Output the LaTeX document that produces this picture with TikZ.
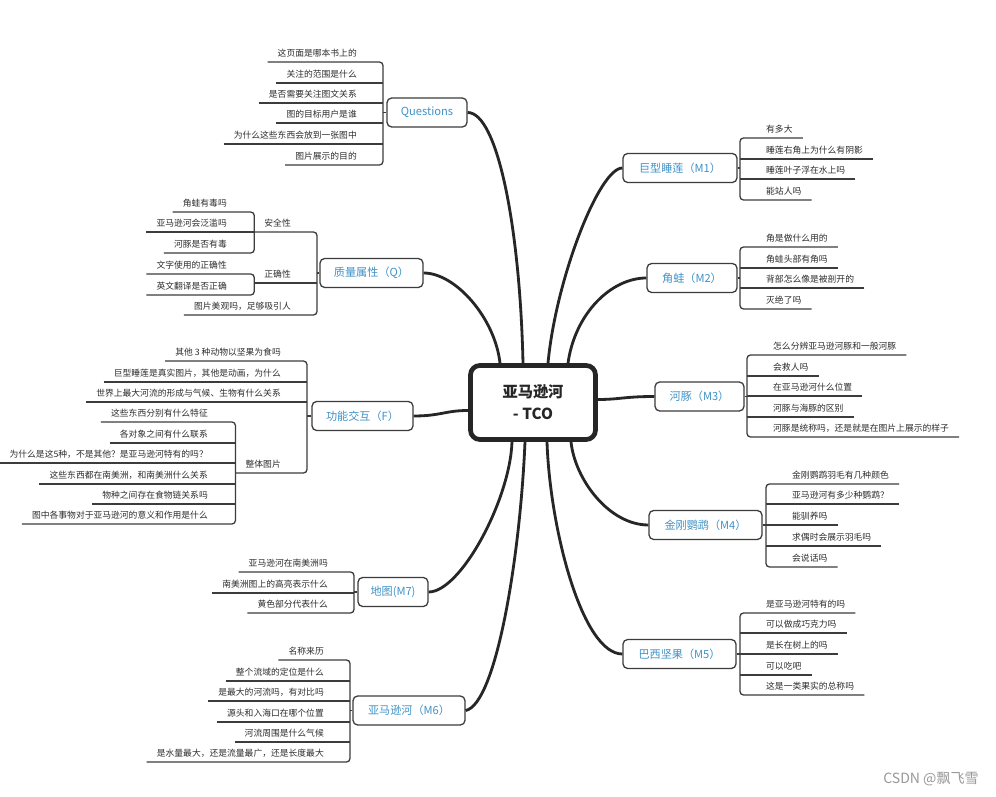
\documentclass[tikz,border=0pt]{standalone}
\usepackage{fontspec}
\setmainfont{Noto Sans CJK SC}
\usetikzlibrary{calc}
\definecolor{inkgray}{RGB}{60,60,60}
\definecolor{textgray}{RGB}{45,45,45}
\definecolor{topicblue}{RGB}{64,146,200}
\newcommand{\leaffont}{\fontsize{7.5}{9}\selectfont}
\newcommand{\topicfont}{\fontsize{9.5}{11}\selectfont}
\newcommand{\rootfont}{\fontsize{13}{18.7}\selectfont\bfseries}
\tikzset{
  leafr/.style={anchor=south west, inner xsep=8.5pt, inner ysep=3.3pt,
    text height=6.6pt, text depth=0.9pt, text=textgray, font=\leaffont},
  leafl/.style={leafr, anchor=south east},
  twig/.style={draw=inkgray, line width=1.1pt, rounded corners=3pt},
  limb/.style={draw=black!85, line width=2.4pt},
  topic/.style={draw=inkgray, line width=1.1pt, rounded corners=4pt, text=topicblue,
    font=\topicfont, inner sep=0pt, minimum height=0.87cm},
  root/.style={draw=black!85, line width=4pt, rounded corners=8pt, align=center,
    font=\rootfont, minimum width=3.75cm, minimum height=2.22cm, text=black!85}
}

\begin{document}
\begin{tikzpicture}[x=0.03cm, y=-0.03cm]
   \useasboundingbox[fill=white] (0,0) rectangle (996,797);
   % root and topics
   \node[root] (cen) at (533,402.5) {亚马逊河\\- TCO};
   \node[topic, minimum width=2.4cm]  (qs) at (427,112.5) {Questions};
   \node[topic, minimum width=3.09cm] (ql) at (371.5,273) {质量属性（Q）};
   \node[topic, minimum width=3.03cm] (fi) at (362.5,416) {功能交互（F）};
   \node[topic, minimum width=2.1cm]  (m7) at (393,592) {地图(M7)};
   \node[topic, minimum width=3.36cm] (m6) at (409,710.5) {亚马逊河（M6）};
   \node[topic, minimum width=3.42cm] (m1) at (680,168) {巨型睡莲（M1）};
   \node[topic, minimum width=2.7cm]  (m2) at (692,278) {角蛙（M2）};
   \node[topic, minimum width=2.67cm] (m3) at (699.5,396.5) {河豚（M3）};
   \node[topic, minimum width=3.39cm] (m4) at (705.5,525) {金刚鹦鹉（M4）};
   \node[topic, minimum width=3.39cm] (m5) at (679.5,654) {巴西坚果（M5）};

   % limbs from the root
   \draw[limb] (qs.east) .. controls +(30,0) and +(-3,-135) .. ($(cen.north)+(-10,0)$);
   \draw[limb] (ql.east) .. controls +(32,0) and +(-5,-45) .. ($(cen.north)+(-33,0)$);
   \draw[limb] (m1.west) .. controls +(-23,0) and +(8,-85) .. ($(cen.north)+(15,0)$);
   \draw[limb] (m2.west) .. controls +(-35,0) and +(7,-50) .. ($(cen.north)+(35,0)$);
   \draw[limb] (m3.west) .. controls +(-30,0) and +(22,0) .. ($(cen.east)+(0,-3)$);
   \draw[limb] (m4.west) .. controls +(-39,0) and +(4,38) .. ($(cen.south)+(38,0)$);
   \draw[limb] (m5.west) .. controls +(-40,0) and +(3,88) .. ($(cen.south)+(14,0)$);
   \draw[limb] (m6.east) .. controls +(30,-6) and +(-5,118) .. ($(cen.south)+(-8,0)$);
   \draw[limb] (m7.east) .. controls +(32,0) and +(-2,58) .. ($(cen.south)+(-21,0)$);
   \draw[limb] (fi.east) .. controls +(27,0) and +(-23,0) .. ($(cen.west)+(0,8)$);

   % Questions
   \coordinate (qsbr) at (383,112.5);
   \node[leafl] (qsa) at (367,62)  {这页面是哪本书上的};
   \node[leafl] (qsb) at (367,83)  {关注的范围是什么};
   \node[leafl] (qsc) at (367,103) {是否需要关注图文关系};
   \node[leafl] (qsd) at (367,123) {图的目标用户是谁};
   \node[leafl] (qse) at (367,144) {为什么这些东西会放到一张图中};
   \node[leafl] (qsf) at (367,165) {图片展示的目的};
   \draw[twig] (qs.west) -- (qsbr);
   \draw[twig] (qsa.south west) -- (qsa.south east -| qsbr) -- (qsf.south east -| qsbr) -- (qsf.south west);
   \draw[twig] (qsb.south west) -- (qsb.south east -| qsbr) (qsc.south west) -- (qsc.south east -| qsbr)
      (qsd.south west) -- (qsd.south east -| qsbr) (qse.south west) -- (qse.south east -| qsbr);

   % quality
   \coordinate (qlbr) at (317,273);
   \node[leafl] (saf) at (301,232) {安全性};
   \node[leafl] (cor) at (301,283) {正确性};
   \node[leafl] (qlc) at (301,315) {图片美观吗，足够吸引人};
   \node[leafl] (saf1) at (237,212) {角蛙有毒吗};
   \node[leafl] (saf2) at (237,232) {亚马逊河会泛滥吗};
   \node[leafl] (saf3) at (237,253) {河豚是否有毒};
   \node[leafl] (cor1) at (237,274) {文字使用的正确性};
   \node[leafl] (cor2) at (237,295) {英文翻译是否正确};
   \draw[twig] (ql.west) -- (qlbr);
   \draw[twig] (saf.south west) -- (saf.south east -| qlbr) -- (qlc.south east -| qlbr) -- (qlc.south west);
   \draw[twig] (cor.south west) -- (cor.south east -| qlbr);
   \draw[twig] (saf1.south west) -- (saf1.south east -| saf.south west) -- (saf3.south east -| saf.south west) -- (saf3.south west);
   \draw[twig] (saf2.south west) -- (saf2.south east -| saf.south west);
   \draw[twig] (cor1.south west) -- (cor1.south east -| cor.south west) -- (cor2.south east -| cor.south west) -- (cor2.south west);

   % function
   \coordinate (fibr) at (307,416);
   \node[leafl] (fia) at (291,361) {其他 3 种动物以坚果为食吗};
   \node[leafl] (fib) at (291,382) {巨型睡莲是真实图片，其他是动画，为什么};
   \node[leafl] (fic) at (291,402) {世界上最大河流的形成与气候、生物有什么关系};
   \node[leafl] (whole) at (291,473) {整体图片};
   \node[leafl] (wh1) at (218,422) {这些东西分别有什么特征};
   \node[leafl] (wh2) at (218,443) {各对象之间有什么联系};
   \node[leafl] (wh3) at (218,463) {为什么是这5种，不是其他？是亚马逊河特有的吗？};
   \node[leafl] (wh4) at (218,484) {这些东西都在南美洲，和南美洲什么关系};
   \node[leafl] (wh5) at (218,504) {物种之间存在食物链关系吗};
   \node[leafl] (wh6) at (218,524) {图中各事物对于亚马逊河的意义和作用是什么};
   \draw[twig] (fi.west) -- (fibr);
   \draw[twig] (fia.south west) -- (fia.south east -| fibr) -- (whole.south east -| fibr) -- (whole.south west);
   \draw[twig] (fib.south west) -- (fib.south east -| fibr) (fic.south west) -- (fic.south east -| fibr);
   \draw[twig] (wh1.south west) -- (wh1.south east -| whole.south west) -- (wh6.south east -| whole.south west) -- (wh6.south west);
   \draw[twig] (wh2.south west) -- (wh2.south east -| whole.south west) (wh3.south west) -- (wh3.south east -| whole.south west)
      (wh4.south west) -- (wh4.south east -| whole.south west) (wh5.south west) -- (wh5.south east -| whole.south west);

   % M7
   \coordinate (m7br) at (354,592);
   \node[leafl] (m7a) at (338,572) {亚马逊河在南美洲吗};
   \node[leafl] (m7b) at (338,593) {南美洲图上的高亮表示什么};
   \node[leafl] (m7c) at (338,613) {黄色部分代表什么};
   \draw[twig] (m7.west) -- (m7br);
   \draw[twig] (m7a.south west) -- (m7a.south east -| m7br) -- (m7c.south east -| m7br) -- (m7c.south west);
   \draw[twig] (m7b.south west) -- (m7b.south east -| m7br);

   % M6
   \coordinate (m6br) at (350,710.5);
   \node[leafl] (m6a) at (334,660) {名称来历};
   \node[leafl] (m6b) at (334,681) {整个流域的定位是什么};
   \node[leafl] (m6c) at (334,701) {是最大的河流吗，有对比吗};
   \node[leafl] (m6d) at (334,722) {源头和入海口在哪个位置};
   \node[leafl] (m6e) at (334,742) {河流周围是什么气候};
   \node[leafl] (m6f) at (334,762) {是水量最大，还是流量最广，还是长度最大};
   \draw[twig] (m6.west) -- (m6br);
   \draw[twig] (m6a.south west) -- (m6a.south east -| m6br) -- (m6f.south east -| m6br) -- (m6f.south west);
   \draw[twig] (m6b.south west) -- (m6b.south east -| m6br) (m6c.south west) -- (m6c.south east -| m6br)
      (m6d.south west) -- (m6d.south east -| m6br) (m6e.south west) -- (m6e.south east -| m6br);

   % M1
   \coordinate (m1br) at (740,168);
   \node[leafr] (m1a) at (756,138) {有多大};
   \node[leafr] (m1b) at (756,159) {睡莲右角上为什么有阴影};
   \node[leafr] (m1c) at (756,179) {睡莲叶子浮在水上吗};
   \node[leafr] (m1d) at (756,200) {能站人吗};
   \draw[twig] (m1.east) -- (m1br);
   \draw[twig] (m1a.south east) -- (m1a.south west -| m1br) -- (m1d.south west -| m1br) -- (m1d.south east);
   \draw[twig] (m1b.south east) -- (m1b.south west -| m1br) (m1c.south east) -- (m1c.south west -| m1br);

   % M2
   \coordinate (m2br) at (740,278);
   \node[leafr] (m2a) at (756,247) {角是做什么用的};
   \node[leafr] (m2b) at (756,268) {角蛙头部有角吗};
   \node[leafr] (m2c) at (756,288) {背部怎么像是被剖开的};
   \node[leafr] (m2d) at (756,309) {灭绝了吗};
   \draw[twig] (m2.east) -- (m2br);
   \draw[twig] (m2a.south east) -- (m2a.south west -| m2br) -- (m2d.south west -| m2br) -- (m2d.south east);
   \draw[twig] (m2b.south east) -- (m2b.south west -| m2br) (m2c.south east) -- (m2c.south west -| m2br);

   % M3
   \coordinate (m3br) at (747,396.5);
   \node[leafr] (m3a) at (763,355) {怎么分辨亚马逊河豚和一般河豚};
   \node[leafr] (m3b) at (763,376) {会救人吗};
   \node[leafr] (m3c) at (763,396) {在亚马逊河什么位置};
   \node[leafr] (m3d) at (763,417) {河豚与海豚的区别};
   \node[leafr] (m3e) at (763,437) {河豚是统称吗，还是就是在图片上展示的样子};
   \draw[twig] (m3.east) -- (m3br);
   \draw[twig] (m3a.south east) -- (m3a.south west -| m3br) -- (m3e.south west -| m3br) -- (m3e.south east);
   \draw[twig] (m3b.south east) -- (m3b.south west -| m3br) (m3c.south east) -- (m3c.south west -| m3br)
      (m3d.south east) -- (m3d.south west -| m3br);

   % M4
   \coordinate (m4br) at (766,525);
   \node[leafr] (m4a) at (782,484) {金刚鹦鹉羽毛有几种颜色};
   \node[leafr] (m4b) at (782,504) {亚马逊河有多少种鹦鹉？};
   \node[leafr] (m4c) at (782,525) {能驯养吗};
   \node[leafr] (m4d) at (782,546) {求偶时会展示羽毛吗};
   \node[leafr] (m4e) at (782,567) {会说话吗};
   \draw[twig] (m4.east) -- (m4br);
   \draw[twig] (m4a.south east) -- (m4a.south west -| m4br) -- (m4e.south west -| m4br) -- (m4e.south east);
   \draw[twig] (m4b.south east) -- (m4b.south west -| m4br) (m4c.south east) -- (m4c.south west -| m4br)
      (m4d.south east) -- (m4d.south west -| m4br);

   % M5
   \coordinate (m5br) at (740,654);
   \node[leafr] (m5a) at (756,613) {是亚马逊河特有的吗};
   \node[leafr] (m5b) at (756,633) {可以做成巧克力吗};
   \node[leafr] (m5c) at (756,654) {是长在树上的吗};
   \node[leafr] (m5d) at (756,675) {可以吃吧};
   \node[leafr] (m5e) at (756,695) {这是一类果实的总称吗};
   \draw[twig] (m5.east) -- (m5br);
   \draw[twig] (m5a.south east) -- (m5a.south west -| m5br) -- (m5e.south west -| m5br) -- (m5e.south east);
   \draw[twig] (m5b.south east) -- (m5b.south west -| m5br) (m5c.south east) -- (m5c.south west -| m5br)
      (m5d.south east) -- (m5d.south west -| m5br);

   \node[text=black!40, font=\fontsize{12}{14}\selectfont] (wm) at (931,779) {CSDN @飘飞雪};
\end{tikzpicture}
\end{document}
